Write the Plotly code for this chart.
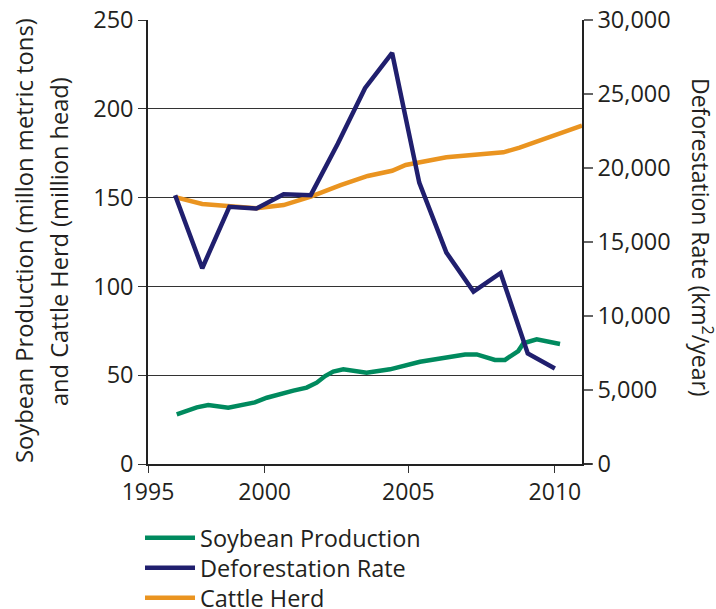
import plotly.graph_objects as go

# ---- data ----
defor_years = [1996, 1997, 1998, 1999, 2000, 2001, 2002, 2003, 2004, 2005, 2006, 2007, 2008, 2009, 2010]
defor_rate = [18161, 13227, 17383, 17259, 18226, 18165, 21651, 25396, 27772, 19014, 14286, 11651, 12911, 7464, 6451]

cattle_years = [1996.0, 1997.0, 1999.0, 2000.0, 2001.0, 2002.1, 2003.1, 2004.0, 2004.5, 2006.0, 2008.1, 2008.7, 2011.0]
cattle_herd = [150.3, 146.4, 144.0, 145.8, 150.5, 157.0, 162.2, 165.1, 168.4, 172.7, 175.5, 178.1, 190.5]

soy_years = [1996.06, 1996.8, 1997.22, 1997.96, 1998.94, 1999.38, 2000.36, 2000.85, 2001.22, 2001.53,
             2001.83, 2002.2, 2003.06, 2003.92, 2005.03, 2006.69, 2007.12, 2007.79, 2008.16, 2008.65,
             2008.84, 2009.33, 2010.19]
soy_prod = [28.0, 31.9, 33.2, 31.7, 34.7, 37.3, 41.3, 43.0, 45.8, 49.5,
            52.0, 53.3, 51.4, 53.3, 57.6, 61.7, 61.7, 58.6, 58.6, 63.6,
            68.0, 70.2, 67.6]

x_tick_labels = ["1995", "2000", "2005", "2010"]
x_tick_positions = [1995.0, 1999.3, 2004.6, 2010.0]

left_title_1 = "Soybean Production (millon metric tons)"
left_title_2 = "and Cattle Herd (million head)"
right_title = "Deforestation Rate (km<sup>2</sup>/year)"

# ---- styles ----
GREEN = "#008A5E"
NAVY = "#201F6E"
ORANGE = "#EA9420"
TXT = "#231F20"
FONT = "Open Sans"

L, R, T, B = 148, 134, 20, 145
W, H = 716, 609
pw, ph = W - L - R, H - T - B


def px_x(x):
    return (x - L) / pw


def px_y(y):
    return (H - B - y) / ph


fig = go.Figure()
fig.add_trace(go.Scatter(x=soy_years, y=soy_prod, mode="lines", name="Soybean Production",
                         line=dict(color=GREEN, width=4.5), legend="legend"))
fig.add_trace(go.Scatter(x=defor_years, y=defor_rate, mode="lines", name="Deforestation Rate",
                         line=dict(color=NAVY, width=4.5), yaxis="y2", legend="legend2"))
fig.add_trace(go.Scatter(x=cattle_years, y=cattle_herd, mode="lines", name="Cattle Herd",
                         line=dict(color=ORANGE, width=4.5), legend="legend3"))

leg_common = dict(xanchor="left", yanchor="middle", itemwidth=50,
                  font=dict(family=FONT, size=23.5, color=TXT), bgcolor="rgba(0,0,0,0)")

fig.update_layout(
    width=W, height=H,
    margin=dict(l=L, r=R, t=T, b=B, autoexpand=False),
    paper_bgcolor="white", plot_bgcolor="white",
    font=dict(family=FONT, size=23, color=TXT),
    showlegend=True,
    legend=dict(x=px_x(140), y=px_y(538), **leg_common),
    legend2=dict(x=px_x(140), y=px_y(568), **leg_common),
    legend3=dict(x=px_x(140), y=px_y(598), **leg_common),
    xaxis=dict(range=[1995, 2011], tickvals=x_tick_positions, ticktext=x_tick_labels,
               ticks="outside", ticklen=7, tickcolor="#333", tickwidth=1.3,
               showline=True, linecolor="#222", linewidth=1.5, mirror=False,
               showgrid=False, zeroline=False, tickfont=dict(size=23)),
    yaxis=dict(range=[0, 250], dtick=50, ticks="outside", ticklen=8, tickcolor="#333", tickwidth=1.3,
               showline=True, linecolor="#222", linewidth=1.5,
               showgrid=True, gridcolor="#333", gridwidth=1.3, zeroline=False,
               tickfont=dict(size=23.5)),
    yaxis2=dict(range=[0, 30000], dtick=5000, tickformat=",", overlaying="y", side="right",
                ticks="outside", ticklen=9, tickcolor="#666", tickwidth=1.5,
                showline=True, linecolor="#222", linewidth=1.5,
                showgrid=False, zeroline=False, tickfont=dict(size=23.5)),
    shapes=[dict(type="line", xref="paper", yref="paper", x0=1, x1=px_x(592), y0=0, y1=0,
                 line=dict(color="#222", width=1.5))],
    annotations=[
        dict(text=left_title_1, x=px_x(24), y=px_y(241), xref="paper", yref="paper", showarrow=False,
             textangle=-90, font=dict(size=23.8, color=TXT), xanchor="center", yanchor="middle"),
        dict(text=left_title_2, x=px_x(59), y=px_y(242), xref="paper", yref="paper", showarrow=False,
             textangle=-90, font=dict(size=23.6, color=TXT), xanchor="center", yanchor="middle"),
        dict(text=right_title, x=px_x(702), y=px_y(237), xref="paper", yref="paper", showarrow=False,
             textangle=90, font=dict(size=23, color=TXT), xanchor="center", yanchor="middle"),
    ],
)

fig.write_html("out.html", config={"displayModeBar": False},
               post_script="document.body.style.margin='0';document.body.style.overflow='hidden';")
